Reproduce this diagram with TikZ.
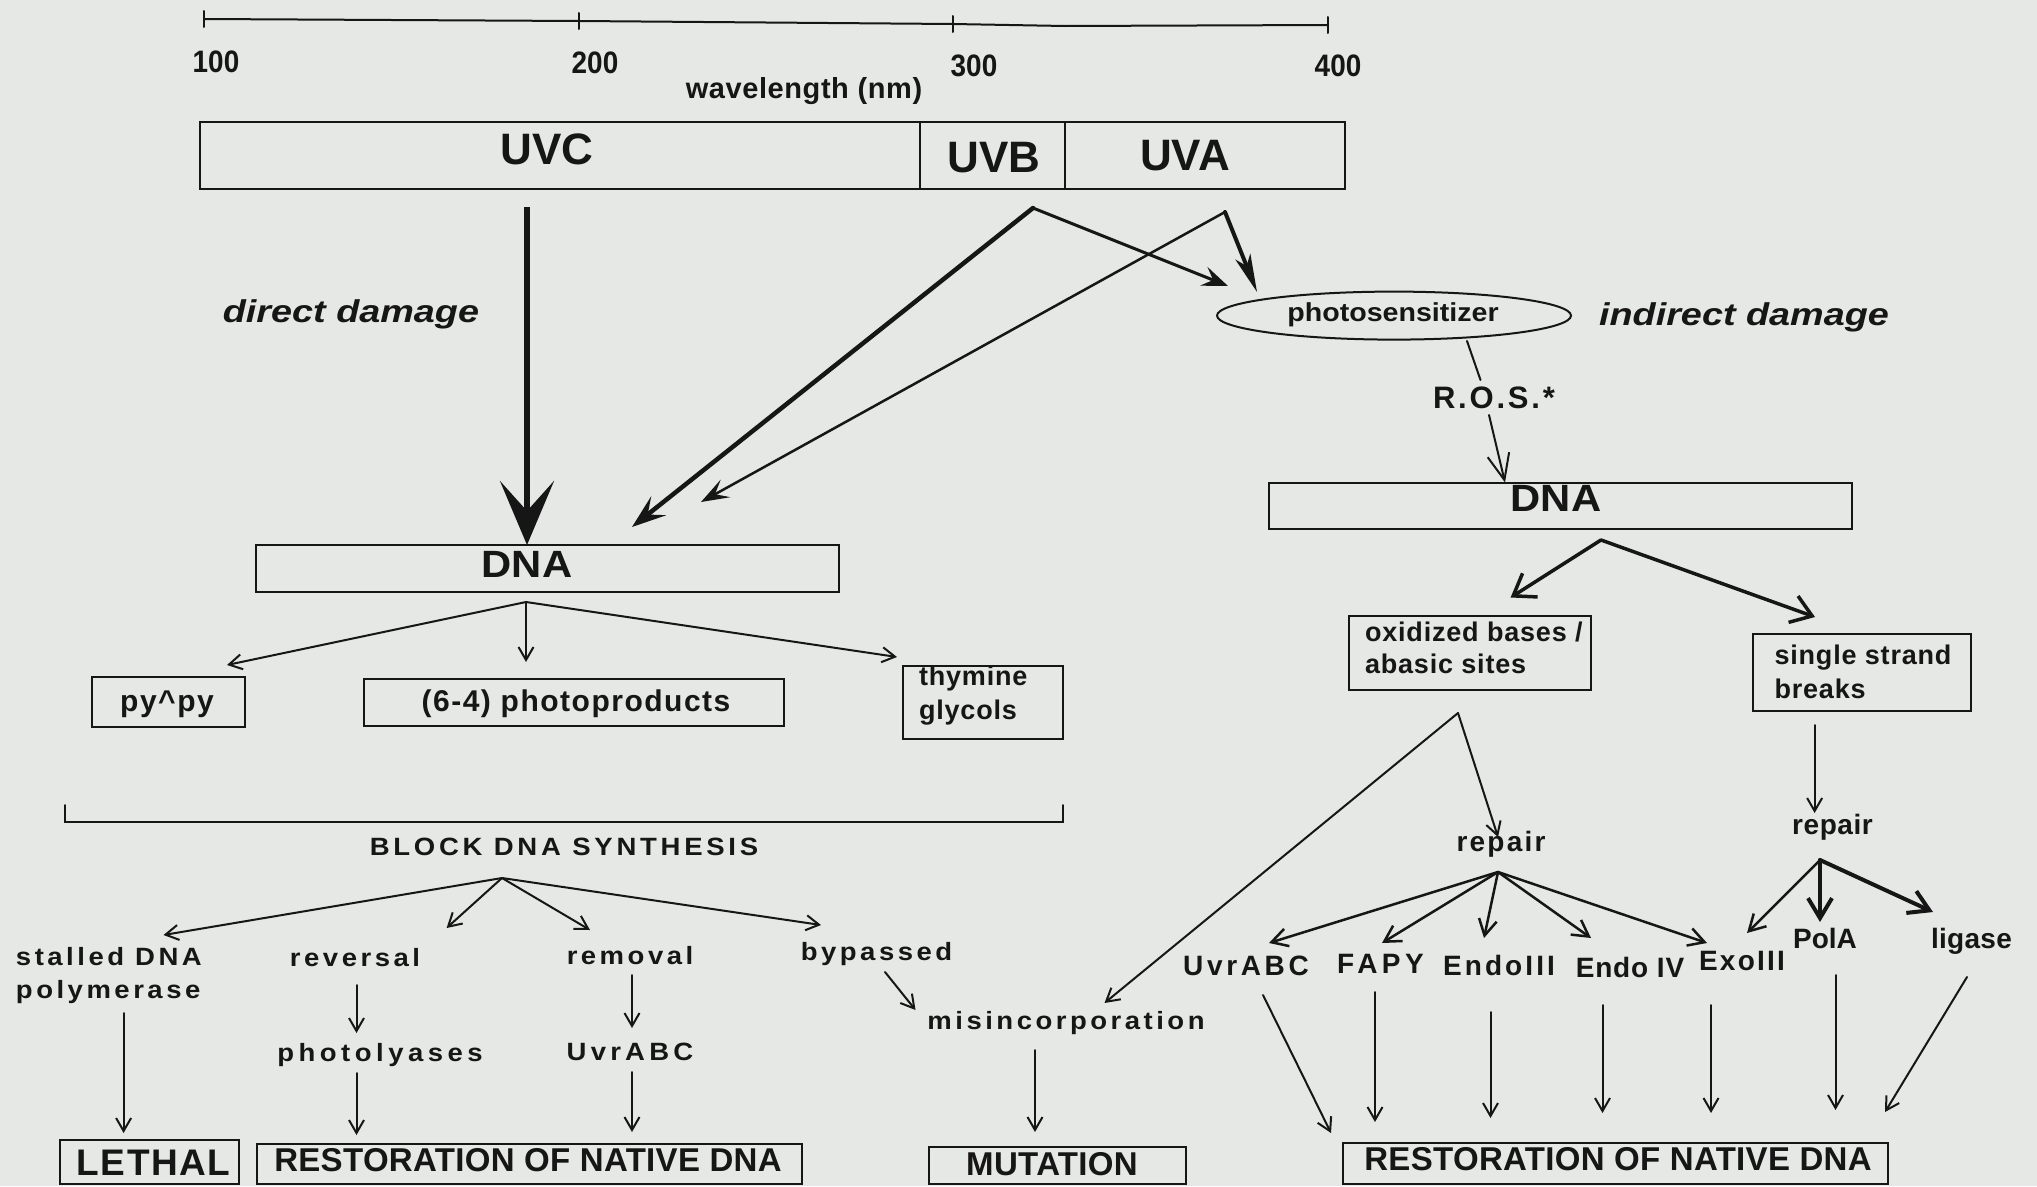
\documentclass[tikz,border=0pt]{standalone}
\usepackage{fontspec}
\setmainfont{Liberation Sans}
\newfontfamily\fA{Liberation Sans}
\newfontfamily\fW[FakeStretch=1.1]{Liberation Sans}
\newfontfamily\fI[FakeStretch=1.2]{Liberation Sans}
\newfontfamily\fN[FakeStretch=0.9]{Liberation Sans}
\usetikzlibrary{arrows.meta,shapes.geometric}
\definecolor{bg}{RGB}{230,232,229}
\definecolor{ink}{RGB}{22,22,22}
\newcommand\fsz[1]{\fontsize{#1}{#1}\selectfont}
\newcommand\lsp[1]{\addfontfeature{LetterSpace=#1}}
\newcommand\boxat[5]{\node[box,minimum width={#4-#2},minimum height={#5-#3}] (#1) at ({(#2+#4)/2},{(#3+#5)/2}) {};}
\begin{document}
\begin{tikzpicture}[x=1pt,y=-1pt,
  txt/.style={inner sep=0pt,outer sep=0pt,text=ink,anchor=base},
  txtl/.style={txt,anchor=base west},
  box/.style={draw=ink,line width=2pt,inner sep=0pt,outer sep=0pt},
  ln/.style={draw=ink,line width=2pt,line cap=round},
  thin/.style={ln,-{Straight Barb[length=13pt,width=15pt]}},
  med/.style={ln,line width=2.5pt,-{Straight Barb[length=16pt,width=18pt]}},
  fat/.style={ln,line width=3.5pt,-{Straight Barb[length=20pt,width=28pt]}},
  ftick/.style={font=\fN\bfseries\fsz{31}},
  fuv/.style={font=\fA\bfseries\fsz{44}},
  fdna/.style={font=\fW\bfseries\fsz{38}},
  fital/.style={font=\fI\bfseries\itshape\fsz{31.5}},
  flab/.style={font=\fA\bfseries\fsz{27}\lsp{3}},
  fsp/.style={font=\fW\bfseries\fsz{25}\lsp{14}},
  frow/.style={font=\fA\bfseries\fsz{28}\lsp{#1}},
  fbig/.style={font=\fA\bfseries\fsz{33}\lsp{1}},
]
\useasboundingbox[fill=bg] (0,0) rectangle (2037,1186);

% ---- wavelength scale
\coordinate (s1) at (204,19);
\coordinate (s2) at (579,21);
\coordinate (s3) at (953,24);
\coordinate (s4) at (1328,25);
\draw[ln] (s1) -- (s2) -- (s3) -- (1065,26) -- (s4);
\foreach \p in {s1,s2,s3,s4} \draw[ln] (\p) ++(0,-8) -- ++(0,16);
\node[txt,ftick] (l100) at (216,72) {100};
\node[txt,ftick] (l200) at (595,73) {200};
\node[txt,ftick] (l300) at (974,76) {300};
\node[txt,ftick] (l400) at (1338,76) {400};
\node[txt,font=\fA\bfseries\fsz{29}\lsp{2}] (wl) at (804,98) {wavelength (nm)};

% ---- UV bands
\boxat{uvc}{200}{122}{920}{189}
\boxat{uvb}{920}{122}{1065}{189}
\boxat{uva}{1065}{122}{1345}{189}
\node[txt,fuv] (tuvc) at (547,164) {UVC};
\node[txt,fuv] (tuvb) at (994,172) {UVB};
\node[txt,fuv] (tuva) at (1185,170) {UVA};

% ---- left: direct damage
\node[txt,fital] (dd) at (351,322) {direct damage};
\boxat{dnaL}{256}{545}{839}{592}
\node[txt,fdna] (tdnaL) at (527,577) {DNA};
\coordinate (uvcs) at (527,207);
\draw[ln,line width=6pt,line cap=butt,-{Stealth[length=64pt,width=54pt,inset=30pt]}] (uvcs) -- (dnaL.north -| uvcs);

% ---- right: indirect damage
\node[draw=ink,line width=2pt,ellipse,minimum width=354pt,minimum height=48pt,inner sep=0pt] (ps) at (1394,315.6) {};
\node[txt,font=\fW\bfseries\fsz{26}] (tps) at (1393,321) {photosensitizer};
\node[txt,fital] (id) at (1744,325) {indirect damage};

\coordinate (uvbapex) at (1033,208);
\coordinate (uvaapex) at (1225,212);
\coordinate (tipB) at (632,527);
\coordinate (tipA) at (701,502);
\coordinate (tipBp) at (1228,286);
\coordinate (tipAp) at (1257,292);
\draw[ln,line width=4.5pt,-{Stealth[length=34pt,width=24pt,inset=14pt]}] (uvbapex) -- (tipB);
\draw[ln,line width=2.5pt,-{Stealth[length=28pt,width=20pt,inset=12pt]}] (uvaapex) -- (tipA);
\draw[ln,line width=3pt,-{Stealth[length=26pt,width=20pt,inset=10pt]}] (uvbapex) -- (tipBp);
\draw[ln,line width=4pt,-{Stealth[length=38pt,width=16pt,inset=10pt]}] (uvaapex) -- (tipAp);

\node[txt,font=\fA\bfseries\fsz{31}\lsp{9}] (ros) at (1494,408) {R.O.S.*};
\coordinate (ros1) at (1467,341);
\coordinate (ros2) at (1480.5,380);
\coordinate (ros3) at (1489,415);
\draw[ln] (ros1) -- (ros2);
\boxat{dnaR}{1268.5}{482.5}{1852}{529}
\node[txt,fdna] (tdnaR) at (1556,511.6) {DNA};
\draw[ln,-{Straight Barb[length=26pt,width=22pt]}] (ros3) -- (dnaR.north -| 1505,0);

% ---- left damage products
\coordinate (apL) at (526,602);
\boxat{bpy}{91.7}{677}{244.8}{727}
\boxat{b64}{363.6}{679}{784}{725.7}
\boxat{bthy}{902.7}{666}{1063}{739}
\node[txt,font=\fA\bfseries\fsz{30}\lsp{5}] (tpy) at (167,711) {py\textasciicircum py};
\node[txt,font=\fA\bfseries\fsz{30}\lsp{5}] (t64) at (576,711) {(6-4) photoproducts};
\node[txtl,flab] (tthy1) at (919,685) {thymine};
\node[txtl,flab] (tthy2) at (919,719) {glycols};
\draw[thin] (apL) -- (227,665);
\draw[thin] (apL) -- (526,662);
\draw[thin] (apL) -- (897,657);

% ---- bracket
\coordinate (br1) at (65,822);
\coordinate (br2) at (1063,822);
\draw[ln] (br1) ++(0,-17) -- (br1) -- (br2) -- ++(0,-17);
\node[txt,font=\fW\bfseries\fsz{25}\lsp{15}] (block) at (564,855) {BLOCK DNA SYNTHESIS};

% ---- block outcomes
\coordinate (apB) at (502,878);
\node[txtl,fsp] (stall1) at (16,965) {stalled DNA};
\node[txtl,fsp] (stall2) at (16,998) {polymerase};
\node[txt,fsp] (rev) at (355,966) {reversal};
\node[txt,fsp] (rem) at (630,964) {removal};
\node[txt,fsp] (byp) at (876.5,960) {bypassed};
\node[txt,font=\fW\bfseries\fsz{25}\lsp{18}] (phl) at (380,1061) {photolyases};
\node[txt,font=\fW\bfseries\fsz{25}\lsp{17}] (uvrL) at (630,1060) {UvrABC};
\node[txt,fsp] (mis) at (1066,1029) {misincorporation};
\draw[thin] (apB) -- (163.5,935);
\draw[thin] (apB) -- (446.6,928);
\draw[thin] (apB) -- (590,930);
\draw[thin] (apB) -- (821,925);

% ---- bottom boxes
\boxat{blet}{60}{1140}{239}{1184}
\boxat{bresL}{257}{1144}{802}{1184}
\boxat{bmut}{929}{1147}{1186}{1184}
\boxat{bresR}{1343}{1143}{1888}{1184}
\node[txt,font=\fA\bfseries\fsz{37}\lsp{4}] (tlet) at (153.5,1175) {LETHAL};
\node[txt,fbig] (tresL) at (528,1171.7) {RESTORATION OF NATIVE DNA};
\node[txt,fbig] (tmut) at (1052,1175) {MUTATION};
\node[txt,fbig] (tresR) at (1618,1170) {RESTORATION OF NATIVE DNA};

\draw[thin] (123.6,1013) -- (123.6,1133);
\draw[thin] (356.5,985) -- (356.5,1033);
\draw[thin] (356.5,1073) -- (356.5,1135);
\draw[thin] (632,975) -- (632,1028);
\draw[thin] (632,1072) -- (632,1132);
\draw[thin] (885,972) -- (915.5,1010);
\draw[thin] (1035,1050) -- (1035,1132);

% ---- right damage products
\boxat{box}{1349}{616}{1591}{689.5}
\boxat{bss}{1752.7}{634}{1970.7}{711}
\node[txtl,flab] (tox1) at (1365,641) {oxidized bases /};
\node[txtl,flab] (tox2) at (1365,673) {abasic sites};
\node[txtl,flab] (tss1) at (1774.5,664) {single strand};
\node[txtl,flab] (tss2) at (1774.5,698.6) {breaks};
\coordinate (apR) at (1601,540);
\draw[fat] (apR) -- (1510.6,597.5);
\draw[fat] (apR) -- (1815,617);

\coordinate (apOx) at (1458,713);
\draw[thin] (apOx) -- (1498,837);
\draw[thin] (apOx) -- (1104.5,1003);
\draw[thin] (1814.6,725) -- (1814.6,813);

\node[txt,frow=8] (rep1) at (1501,851) {repair};
\node[txt,frow=2] (rep2) at (1832.5,834) {repair};

\node[txt,frow=13] (uvrR) at (1246,975) {UvrABC};
\node[txt,frow=16] (fapy) at (1380.5,973) {FAPY};
\node[txt,frow=11] (e3) at (1499,975) {EndoIII};
\node[txt,frow=3] (e4) at (1630,977) {Endo IV};
\node[txt,frow=8] (ex3) at (1742,970) {ExoIII};
\node[txt,frow=0] (pola) at (1825,948) {PolA};
\node[txt,frow=1] (lig) at (1971.5,948) {ligase};

\coordinate (apR1) at (1498,872);
\draw[med] (apR1) -- (1269,943);
\draw[med] (apR1) -- (1382,943);
\draw[med] (apR1) -- (1484,938);
\draw[med] (apR1) -- (1591,938);
\draw[med] (apR1) -- (1707,943);
\coordinate (apR2) at (1820,860);
\draw[med] (apR2) -- (1747,933);
\draw[ln,line width=4pt,-{Straight Barb[length=20pt,width=24pt]}] (apR2) -- (1820,922);
\draw[ln,line width=4pt,-{Straight Barb[length=20pt,width=24pt]}] (apR2) -- (1933,912);

\draw[thin] (1263,995) -- (1331,1133);
\draw[thin] (1375,992) -- (1375,1122);
\draw[thin] (1490.5,1012) -- (1490.5,1118);
\draw[thin] (1602.5,1005) -- (1602.5,1113);
\draw[thin] (1711,1005) -- (1711,1113);
\draw[thin] (1835.5,975) -- (1835.5,1110);
\draw[thin] (1967,977) -- (1885,1112);
\end{tikzpicture}
\end{document}
